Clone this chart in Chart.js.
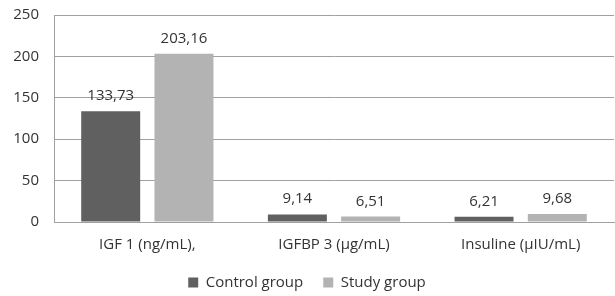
<!DOCTYPE html>
<html lang="en">
<head>
    <meta charset="UTF-8">
    <title>IGF chart</title>
    <script src="https://cdn.jsdelivr.net/npm/chart.js"></script>
    <style>
        html, body {
            margin: 0;
            padding: 0;
            background: #fff;
        }
        .chart-container {
            width: 615px;
            height: 296px;
        }
    </style>
</head>
<body>
    <div class="chart-container">
        <canvas id="barChart"></canvas>
    </div>

    <script>
        const categories = ['IGF 1 (ng/mL),', 'IGFBP 3 (µg/mL)', 'Insuline (µIU/mL)'];
        const controlGroup = [133.73, 9.14, 6.21];
        const studyGroup = [203.16, 6.51, 9.68];
        const yTicks = [0, 50, 100, 150, 200, 250];

        const fontFamily = '"Open Sans", "DejaVu Sans", sans-serif';
        const textColor = '#333333';

        // draws the value above each bar, with a decimal comma
        const valueLabels = {
            id: 'valueLabels',
            afterDatasetsDraw(chart) {
                const ctx = chart.ctx;
                ctx.save();
                ctx.font = '15px ' + fontFamily;
                ctx.fillStyle = textColor;
                ctx.textAlign = 'center';
                ctx.textBaseline = 'alphabetic';
                chart.data.datasets.forEach((ds, i) => {
                    chart.getDatasetMeta(i).data.forEach((bar, j) => {
                        const txt = ds.data[j].toFixed(2).replace('.', ',');
                        ctx.fillText(txt, bar.x, bar.y - 11);
                    });
                });
                ctx.restore();
            }
        };

        const ctx = document.getElementById('barChart').getContext('2d');
        const chart = new Chart(ctx, {
            type: 'bar',
            data: {
                labels: categories,
                datasets: [{
                    label: 'Control group',
                    data: controlGroup,
                    backgroundColor: '#606060',
                    categoryPercentage: 0.785,
                    barPercentage: 0.805
                }, {
                    label: 'Study group',
                    data: studyGroup,
                    backgroundColor: '#b3b3b3',
                    categoryPercentage: 0.785,
                    barPercentage: 0.805
                }]
            },
            options: {
                responsive: true,
                maintainAspectRatio: false,
                animation: false,
                layout: {
                    padding: { left: 0, right: 1, top: 15, bottom: -4 }
                },
                plugins: {
                    legend: {
                        position: 'bottom',
                        labels: {
                            boxWidth: 10,
                            boxHeight: 10,
                            padding: 20,
                            color: textColor,
                            font: { family: fontFamily, size: 15 }
                        }
                    },
                    tooltip: { enabled: false }
                },
                scales: {
                    x: {
                        afterFit(axis) {
                            axis.height = 33;
                        },
                        grid: { display: false, drawTicks: false },
                        border: { color: '#a0a0a0' },
                        ticks: {
                            color: textColor,
                            padding: 14,
                            font: { family: fontFamily, size: 15 }
                        }
                    },
                    y: {
                        min: 0,
                        max: 250,
                        afterBuildTicks(axis) {
                            axis.ticks = yTicks.map(v => ({ value: v }));
                        },
                        afterFit(axis) {
                            axis.width = 54;
                        },
                        grid: {
                            color: '#a0a0a0',
                            drawTicks: true,
                            tickLength: 15,
                            tickColor: 'rgba(0,0,0,0)'
                        },
                        border: { color: '#a0a0a0' },
                        ticks: {
                            color: textColor,
                            padding: 0,
                            font: { family: fontFamily, size: 15 }
                        }
                    }
                }
            },
            plugins: [valueLabels]
        });
    </script>
</body>
</html>
